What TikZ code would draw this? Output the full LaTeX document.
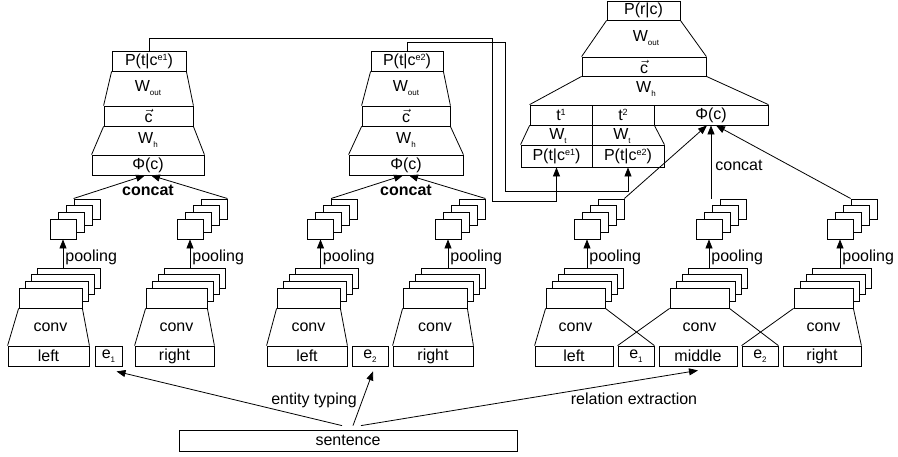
\documentclass[tikz,border=0pt]{standalone}
\usepackage{fontspec}
\setmainfont{Liberation Sans}
\usetikzlibrary{arrows.meta}

\newcommand{\subtx}[1]{\raisebox{-4pt}{\fontsize{8}{8}\selectfont #1}}
\newcommand{\suptx}[1]{\raisebox{5pt}{\fontsize{9}{9}\selectfont #1}}

\tikzset{
  box/.style={draw, rectangle, fill=white, inner sep=0pt, minimum height=20pt},
  fmap/.style={draw, rectangle, fill=white, inner sep=0pt, minimum height=20pt},
  arr/.style={-{Triangle[length=9pt,width=7pt]}},
}

\begin{document}
\begin{tikzpicture}[x=1pt, y=-1pt, line width=0.8pt, font=\fontsize{16}{19}\selectfont]
  \useasboundingbox (0,0) rectangle (898,456);

  % feature maps (conv, then pooling)
  \foreach \n/\x/\w/\px in {L1/50.5/63/63, L2/176.5/61/190, M1/308.5/63/320.5,
      M2/435/64/448, R1/575.5/59/587, R2/699.5/59/709, R3/823.5/59/840} {
    \foreach \k in {3,2,1,0} {
      \node[fmap, minimum width=\w] (c\n-\k) at ({\x+6*\k},{298-6.7*\k}) {};
      \node[fmap, minimum width=26] (p\n-\k) at ({\px+8*\k},{229-6.7*\k}) {};
    }
    \node (v\n) at (\x,327) {conv};
    \draw[arr] (p\n-0.south |- c\n-3.north) -- node[pos=0.35, right, inner sep=2pt] {pooling} (p\n-0.south);
  }

  \begin{scope}[every node/.style={box}]
    % inputs
    \node[minimum width=81] (leftL)  at (48.5,356)  {left};
    \node[minimum width=27] (e1L)    at (108.5,356) {e\subtx{1}};
    \node[minimum width=79] (rightL) at (174.5,356) {right};
    \node[minimum width=80] (leftM)  at (307,356)   {left};
    \node[minimum width=36] (e2M)    at (370,356)   {e\subtx{2}};
    \node[minimum width=80] (rightM) at (433,356)   {right};
    \node[minimum width=78] (leftR)  at (574,356)   {left};
    \node[minimum width=36] (e1R)    at (636,356)   {e\subtx{1}};
    \node[minimum width=78] (midR)   at (698,356)   {middle};
    \node[minimum width=36] (e2R)    at (760,356)   {e\subtx{2}};
    \node[minimum width=78] (rightR) at (822,356)   {right};
    \node[minimum width=338, minimum height=21] (sent) at (348,440.5) {sentence};

    % entity typing, e1
    \node[minimum width=74]  (pt1)  at (149,61)    {P(t|c\suptx{e1})};
    \node[minimum width=89]  (cv1)  at (148.5,116) {$\vec{\mbox{c}}$};
    \node[minimum width=112] (phi1) at (148,165)   {Φ(c)};

    % entity typing, e2
    \node[minimum width=72]  (pt2)  at (407,61)  {P(t|c\suptx{e2})};
    \node[minimum width=88]  (cv2)  at (406,116) {$\vec{\mbox{c}}$};
    \node[minimum width=114] (phi2) at (406,165) {Φ(c)};

    % relation extraction
    \node[minimum width=73, minimum height=19]  (prc)  at (643.5,10.5) {P(r|c)};
    \node[minimum width=124, minimum height=19] (cv3)  at (644,66.5)   {$\vec{\mbox{c}}$};
    \node[minimum width=62]  (t1)   at (561,115)   {t\suptx{1}};
    \node[minimum width=62]  (t2)   at (623,115)   {t\suptx{2}};
    \node[minimum width=114] (phi3) at (711,115)   {Φ(c)};
    \node[minimum width=71, minimum height=22] (pte1) at (556.5,156) {P(t|c\suptx{e1})};
    \node[minimum width=72, minimum height=22] (pte2) at (628,156)   {P(t|c\suptx{e2})};
  \end{scope}

  \begin{scope}[every node/.style={inner sep=0pt}]
    \node (wo1) at (148,88)  {W\subtx{out}};
    \node (wh1) at (148,140) {W\subtx{h}};
    \node (cc1) at (148,190) {\bfseries concat};
    \node (wo2) at (406,88)  {W\subtx{out}};
    \node (wh2) at (406,140) {W\subtx{h}};
    \node (cc2) at (406,190) {\bfseries concat};
    \node (wo3) at (646,38)  {W\subtx{out}};
    \node (wh3) at (646,89)  {W\subtx{h}};
    \node (wt1) at (558,136) {W\subtx{t}};
    \node (wt2) at (622,136) {W\subtx{t}};
    \node (cc3) at (739,165) {concat};
    \node (et)  at (314,400) {entity typing};
    \node (re)  at (634,399) {relation extraction};
  \end{scope}

  \begin{scope}[every edge/.style={draw}]
    % conv windows
    \path (cL1-0.south west) edge (leftL.north west)
          (cL1-0.south east) edge (leftL.north east)
          (cL2-0.south west) edge (rightL.north west)
          (cL2-0.south east) edge (rightL.north east)
          (cM1-0.south west) edge (leftM.north west)
          (cM1-0.south east) edge (leftM.north east)
          (cM2-0.south west) edge (rightM.north west)
          (cM2-0.south east) edge (rightM.north east)
          (cR1-0.south west) edge (leftR.north west)
          (cR1-0.south east) edge (e1R.north east)
          (cR2-0.south west) edge (e1R.north west)
          (cR2-0.south east) edge (e2R.north east)
          (cR3-0.south west) edge (e2R.north west)
          (cR3-0.south east) edge (rightR.north east);
    % hidden and output layers
    \path (pt1.south west) edge (cv1.north west)
          (pt1.south east) edge (cv1.north east)
          (cv1.south west) edge (phi1.north west)
          (cv1.south east) edge (phi1.north east)
          (pt2.south west) edge (cv2.north west)
          (pt2.south east) edge (cv2.north east)
          (cv2.south west) edge (phi2.north west)
          (cv2.south east) edge (phi2.north east)
          (prc.south west) edge (cv3.north west)
          (prc.south east) edge (cv3.north east)
          (cv3.south west) edge (t1.north west)
          (cv3.south east) edge (phi3.north east)
          (t1.south west)  edge (pte1.north west)
          (t1.south east)  edge (pte1.north east)
          (t2.south east)  edge (pte2.north east);
  \end{scope}

  % concat
  \draw[arr] (pL1-3.north west) -- ([xshift=-3pt]phi1.south);
  \draw[arr] (pL2-3.north east) -- ([xshift=3pt]phi1.south);
  \draw[arr] (pM1-3.north west) -- ([xshift=-3pt]phi2.south);
  \draw[arr] (pM2-3.north east) -- ([xshift=3pt]phi2.south);
  \draw[arr] (pR1-3.north east) -- ([xshift=-4pt]phi3.south);
  \draw[arr] (phi3.south |- pR2-3.north) -- (phi3.south);
  \draw[arr] (pR3-3.north west) -- ([xshift=5pt]phi3.south);

  % entity types into relation extraction
  \coordinate (b1) at (492,201);
  \coordinate (b2) at (505,191);
  \draw[arr] (pt1.north) -- ++(0,-12) -| (b1) -| (pte1.south);
  \draw[arr] (pt2.north) -- ++(0,-8) -| (b2) -| (pte2.south);

  % sentence
  \draw[arr] ([xshift=-6pt,yshift=4pt]sent.north) -- ([xshift=8pt,yshift=-5pt]e1L.south);
  \draw[arr] ([xshift=5pt,yshift=4pt]sent.north) -- ([xshift=3pt,yshift=-5pt]e2M.south);
  \draw[arr] ([xshift=13pt,yshift=4pt]sent.north) -- ([yshift=-4pt]midR.south);

\end{tikzpicture}
\end{document}
